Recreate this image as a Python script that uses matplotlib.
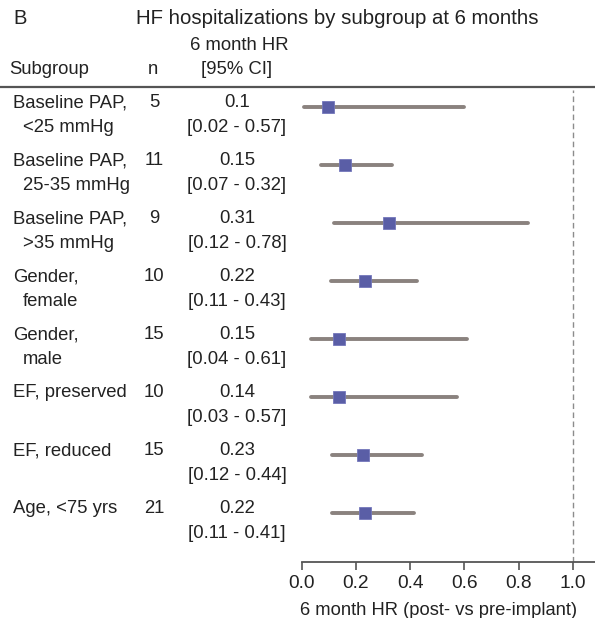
import numpy as np
import matplotlib.pyplot as plt
import matplotlib.transforms as mtransforms

plt.rcParams["font.family"] = ["Liberation Sans", "DejaVu Sans"]

# table text
subgroups = [
    ("Baseline PAP,", "<25 mmHg"),
    ("Baseline PAP,", "25-35 mmHg"),
    ("Baseline PAP,", ">35 mmHg"),
    ("Gender,", "female"),
    ("Gender,", "male"),
    ("EF, preserved", ""),
    ("EF, reduced", ""),
    ("Age, <75 yrs", ""),
]
n_patients = [5, 11, 9, 10, 15, 10, 15, 21]
hr_text = ["0.1", "0.15", "0.31", "0.22", "0.15", "0.14", "0.23", "0.22"]
ci_text = ["[0.02 - 0.57]", "[0.07 - 0.32]", "[0.12 - 0.78]", "[0.11 - 0.43]",
           "[0.04 - 0.61]", "[0.03 - 0.57]", "[0.12 - 0.44]", "[0.11 - 0.41]"]

# drawn marks
hr_point = [0.096, 0.159, 0.323, 0.234, 0.139, 0.139, 0.226, 0.235]
ci_low = [0.008, 0.070, 0.121, 0.107, 0.036, 0.034, 0.110, 0.110]
ci_high = [0.600, 0.334, 0.834, 0.427, 0.610, 0.573, 0.443, 0.413]

W, H = 595, 618
fig = plt.figure(figsize=(W / 100, H / 100), dpi=100)

# plot area in pixel coords -> figure fractions
x0_px, x1_px = 301.7, 572.7         # pixel for HR 0.0 and 1.0
left = x0_px / W
right_val = (W - x0_px) / (x1_px - x0_px)
top_px, bot_px = 90, 562
ax = fig.add_axes([left, 1 - bot_px / H, 1 - left, (bot_px - top_px) / H])

row0_px, row_step = 107, 58
ax.set_ylim((bot_px - row0_px) / row_step, (top_px - row0_px) / row_step)
ax.set_xlim(0, right_val)

text_c = "#222222"
line_c = "#8a827e"
mark_c = "#5a5ea6"

rows = np.arange(len(hr_point))
for i in rows:
    ax.plot([ci_low[i], ci_high[i]], [i, i], color=line_c, lw=2.8,
            solid_capstyle="round", zorder=2)
ax.plot(hr_point, rows, "s", ms=8.8, color=mark_c, mec="#7377bb",
        mew=0.6, zorder=3)

ax.axvline(1.0, color="#8c8c8c", lw=1.0, ls=(0, (4, 2.5)), zorder=1)

for s in ["top", "right", "left"]:
    ax.spines[s].set_visible(False)
ax.spines["bottom"].set_color("#555555")
ax.spines["bottom"].set_linewidth(1.3)
ax.spines["bottom"].set_bounds(0, right_val)
ax.set_yticks([])
ax.set_xticks([0, 0.2, 0.4, 0.6, 0.8, 1.0])
ax.set_xticklabels(["0.0", "0.2", "0.4", "0.6", "0.8", "1.0"])
ax.tick_params(axis="x", length=6, width=1.2, color="#555555",
               labelsize=13.8, labelcolor=text_c, pad=3)
ax.set_xlabel("6 month HR (post- vs pre-implant)", fontsize=13.2,
              color=text_c)
ax.xaxis.set_label_coords(0.505 / right_val, -0.085)

# table text: x in figure pixels, y in data rows
trans = mtransforms.blended_transform_factory(fig.transFigure, ax.transData)
fs = 13.3
for i, (l1, l2) in enumerate(subgroups):
    y1 = i - 0.07
    y2 = i + 0.35
    ax.text(13 / W, y1, l1, transform=trans, ha="left", va="center",
            fontsize=fs, color=text_c, clip_on=False)
    if l2:
        ax.text(23 / W, y2, l2, transform=trans, ha="left", va="center",
                fontsize=fs, color=text_c, clip_on=False)
    ax.text(154 / W, y1, str(n_patients[i]), transform=trans, ha="center",
            va="center", fontsize=fs, color=text_c, clip_on=False)
    ax.text(237 / W, y1, hr_text[i], transform=trans, ha="center",
            va="center", fontsize=fs, color=text_c, clip_on=False)
    ax.text(237 / W, y2, ci_text[i], transform=trans, ha="center",
            va="center", fontsize=fs, color=text_c, clip_on=False)

# header
def fy(px):
    return 1 - px / H

fig.text(13 / W, fy(19), "B", ha="left", va="center", fontsize=14.5, color=text_c)
fig.text(337 / W, fy(19), "HF hospitalizations by subgroup at 6 months",
         ha="center", va="center", fontsize=14.7, color=text_c)
fig.text(239 / W, fy(45), "6 month HR", ha="center", va="center",
         fontsize=fs, color=text_c)
fig.text(9 / W, fy(70), "Subgroup", ha="left", va="center", fontsize=fs,
         color=text_c)
fig.text(153 / W, fy(70), "n", ha="center", va="center", fontsize=fs,
         color=text_c)
fig.text(237 / W, fy(69), "[95% CI]", ha="center", va="center", fontsize=fs,
         color=text_c)
fig.add_artist(plt.Line2D([0, 1], [fy(87), fy(87)], transform=fig.transFigure,
                          color="#555555", lw=1.6))

fig.savefig("out.png", dpi=100)
